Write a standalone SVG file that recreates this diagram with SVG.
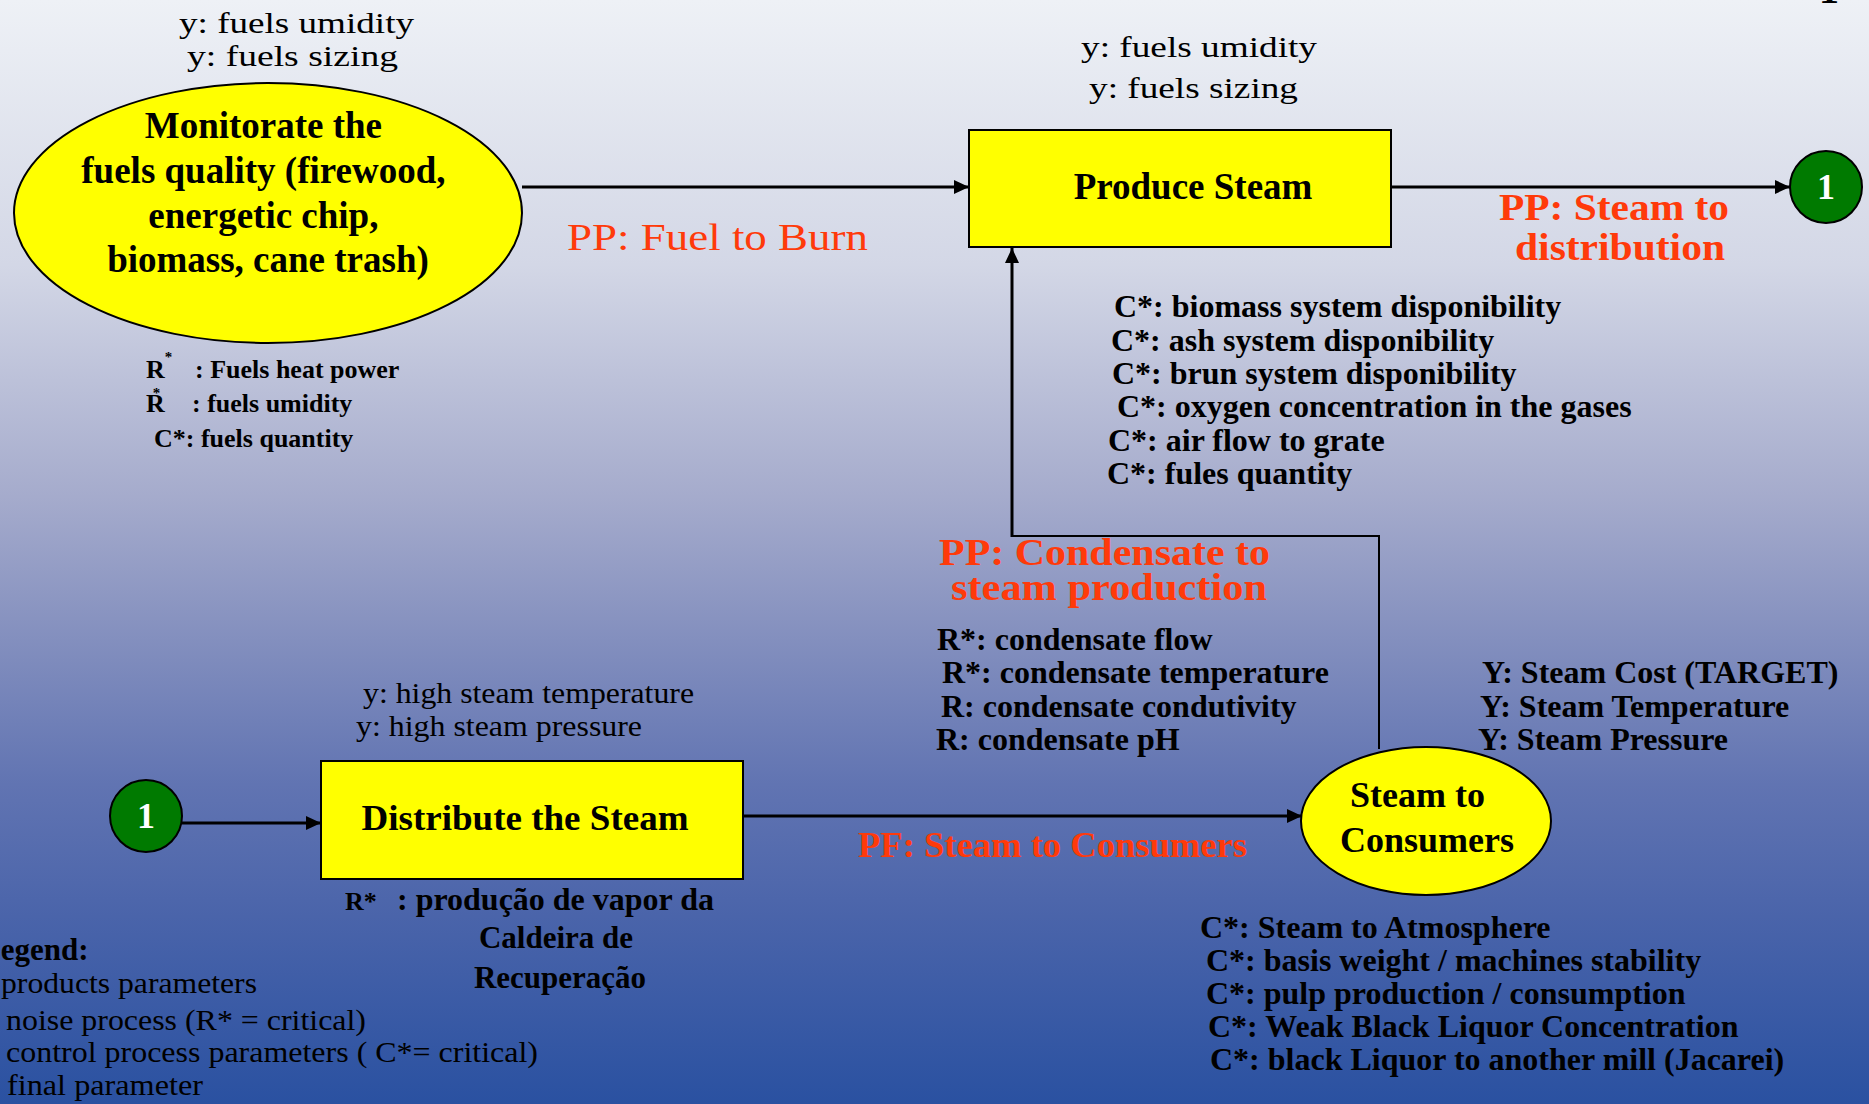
<svg xmlns="http://www.w3.org/2000/svg" width="1869" height="1104" viewBox="0 0 1869 1104">
<defs>
<linearGradient id="bg" x1="0" y1="0" x2="0" y2="1">
<stop offset="0" stop-color="#eef1f6"/>
<stop offset="0.24" stop-color="#d3d7e6"/>
<stop offset="0.45" stop-color="#a5abcc"/>
<stop offset="0.56" stop-color="#8893c0"/>
<stop offset="0.71" stop-color="#6174b2"/>
<stop offset="0.83" stop-color="#4a64aa"/>
<stop offset="1" stop-color="#2a51a1"/>
</linearGradient>
<marker id="arr" markerUnits="userSpaceOnUse" markerWidth="15" markerHeight="14" refX="15" refY="7" orient="auto">
<path d="M0,0 L15,7 L0,14 z" fill="#000"/>
</marker>
<style>
text{font-family:"Liberation Serif","Times New Roman",serif;fill:#000}
.b{font-weight:bold}
.reg{font-size:30px}
.lst{font-size:32px;font-weight:bold}
.red{fill:#ff3a0a}
.node{fill:#ffff00;stroke:#000;stroke-width:2}
.ref{fill:#007a00;stroke:#000;stroke-width:2}
.num{fill:#fff;font-weight:bold;font-size:36px}
.line{fill:none;stroke:#000;stroke-width:3}
.thin{fill:none;stroke:#000;stroke-width:2}
</style>
</defs>
<rect x="0" y="0" width="1869" height="1104" fill="url(#bg)"/>

<g id="connectors">
<line class="line" x1="522" y1="187" x2="969" y2="187" marker-end="url(#arr)"/>
<line class="line" x1="1391" y1="187" x2="1790" y2="187" marker-end="url(#arr)"/>
<line class="line" x1="182" y1="823" x2="321" y2="823" marker-end="url(#arr)"/>
<line class="line" x1="743" y1="816" x2="1302" y2="816" marker-end="url(#arr)"/>
<path class="thin" d="M1379,749 L1379,536 L1012,536"/>
<line class="line" x1="1012" y1="537" x2="1012" y2="248" marker-end="url(#arr)"/>
</g>

<g id="monitorate">
<ellipse class="node" cx="268" cy="213" rx="254" ry="130"/>
<text class="b" font-size="37" text-anchor="middle">
<tspan x="268" y="138">Monitorate the</tspan>
<tspan x="268" y="183">fuels quality (firewood,</tspan>
<tspan x="268" y="228">energetic chip,</tspan>
<tspan x="268" y="272">biomass, cane trash)</tspan>
</text>
</g>
<g id="monitorate-labels">
<text class="reg" x="179" y="33" textLength="235" lengthAdjust="spacingAndGlyphs">y: fuels umidity</text>
<text class="reg" x="187" y="66" textLength="211" lengthAdjust="spacingAndGlyphs">y: fuels sizing</text>
<text class="b" font-size="26" x="146" y="378">R<tspan font-size="15" dy="-16">*</tspan></text>
<text class="b" font-size="26" x="195" y="378">: Fuels heat power</text>
<text class="b" font-size="26" x="146" y="412">R<tspan font-size="15" dx="-12" dy="-14">*</tspan></text>
<text class="b" font-size="26" x="192" y="412">: fuels umidity</text>
<text class="b" font-size="26" x="154" y="447">C*: fuels quantity</text>
<text class="red" font-size="38" x="567" y="250" textLength="301" lengthAdjust="spacingAndGlyphs">PP: Fuel to Burn</text>
</g>

<g id="produce-steam">
<rect class="node" x="969" y="130" width="422" height="117"/>
<text class="b" font-size="37" x="1193" y="199" text-anchor="middle">Produce Steam</text>
</g>
<g id="produce-labels">
<text class="reg" x="1081" y="57" textLength="236" lengthAdjust="spacingAndGlyphs">y: fuels umidity</text>
<text class="reg" x="1089" y="98" textLength="209" lengthAdjust="spacingAndGlyphs">y: fuels sizing</text>
<text class="lst" x="1114" y="317">C*: biomass system disponibility</text>
<text class="lst" x="1111" y="351">C*: ash system disponibility</text>
<text class="lst" x="1112" y="384">C*: brun system disponibility</text>
<text class="lst" x="1117" y="417">C*: oxygen concentration in the gases</text>
<text class="lst" x="1108" y="451">C*: air flow to grate</text>
<text class="lst" x="1107" y="484">C*: fules quantity</text>
<text class="red b" font-size="38" x="1499" y="220" textLength="230" lengthAdjust="spacingAndGlyphs">PP: Steam to</text>
<text class="red b" font-size="38" x="1515" y="260" textLength="210" lengthAdjust="spacingAndGlyphs">distribution</text>
</g>

<g id="ref-out">
<circle class="ref" cx="1826" cy="187" r="36"/>
<text class="num" x="1826" y="199" text-anchor="middle">1</text>
</g>
<text class="b" font-size="40" x="1829" y="3" text-anchor="middle">1</text>

<g id="condensate-labels">
<text class="red b" font-size="37" x="939" y="565" textLength="331" lengthAdjust="spacingAndGlyphs">PP: Condensate to</text>
<text class="red b" font-size="37" x="951" y="600" textLength="316" lengthAdjust="spacingAndGlyphs">steam production</text>
<text class="lst" x="937" y="650">R*: condensate flow</text>
<text class="lst" x="942" y="683">R*: condensate temperature</text>
<text class="lst" x="941" y="717">R: condensate condutivity</text>
<text class="lst" x="936" y="750">R: condensate pH</text>
</g>

<g id="ref-in">
<circle class="ref" cx="146" cy="816" r="36"/>
<text class="num" x="146" y="828" text-anchor="middle">1</text>
</g>

<g id="distribute">
<rect class="node" x="321" y="761" width="422" height="118"/>
<text class="b" font-size="36" x="525" y="830" text-anchor="middle" textLength="327" lengthAdjust="spacingAndGlyphs">Distribute the Steam</text>
</g>
<g id="distribute-labels">
<text class="reg" x="363" y="703" textLength="331" lengthAdjust="spacingAndGlyphs">y: high steam temperature</text>
<text class="reg" x="356" y="736" textLength="286" lengthAdjust="spacingAndGlyphs">y: high steam pressure</text>
<text class="b" font-size="26" x="345" y="910">R*</text>
<text class="b" font-size="31" x="397" y="910" textLength="317" lengthAdjust="spacingAndGlyphs">: produção de vapor da</text>
<text class="b" font-size="31" x="556" y="948" text-anchor="middle">Caldeira de</text>
<text class="b" font-size="31" x="560" y="988" text-anchor="middle">Recuperação</text>
<text class="red b" font-size="36" x="858" y="857" textLength="389" lengthAdjust="spacingAndGlyphs">PF: Steam to Consumers</text>
</g>

<g id="consumers">
<ellipse class="node" cx="1426" cy="821" rx="125" ry="74"/>
<text class="b" font-size="36" text-anchor="middle">
<tspan x="1422" y="807">Steam to</tspan>
<tspan x="1427" y="852">Consumers</tspan>
</text>
</g>
<g id="consumers-labels">
<text class="lst" x="1482" y="683">Y: Steam Cost (TARGET)</text>
<text class="lst" x="1480" y="717">Y: Steam Temperature</text>
<text class="lst" x="1478" y="750">Y: Steam Pressure</text>
<text class="lst" x="1200" y="938">C*: Steam to Atmosphere</text>
<text class="lst" x="1206" y="971">C*: basis weight / machines stability</text>
<text class="lst" x="1206" y="1004">C*: pulp production / consumption</text>
<text class="lst" x="1208" y="1037">C*: Weak Black Liquor Concentration</text>
<text class="lst" x="1210" y="1070">C*: black Liquor to another mill (Jacarei)</text>
</g>

<g id="legend">
<text class="b" font-size="31" x="-20" y="960">Legend:</text>
<text class="reg" x="1" y="993" textLength="256" lengthAdjust="spacingAndGlyphs">products parameters</text>
<text class="reg" x="6" y="1030" textLength="360" lengthAdjust="spacingAndGlyphs">noise process (R* = critical)</text>
<text class="reg" x="6" y="1062" textLength="532" lengthAdjust="spacingAndGlyphs">control process parameters ( C*= critical)</text>
<text class="reg" x="7" y="1095" textLength="196" lengthAdjust="spacingAndGlyphs">final parameter</text>
</g>
</svg>
